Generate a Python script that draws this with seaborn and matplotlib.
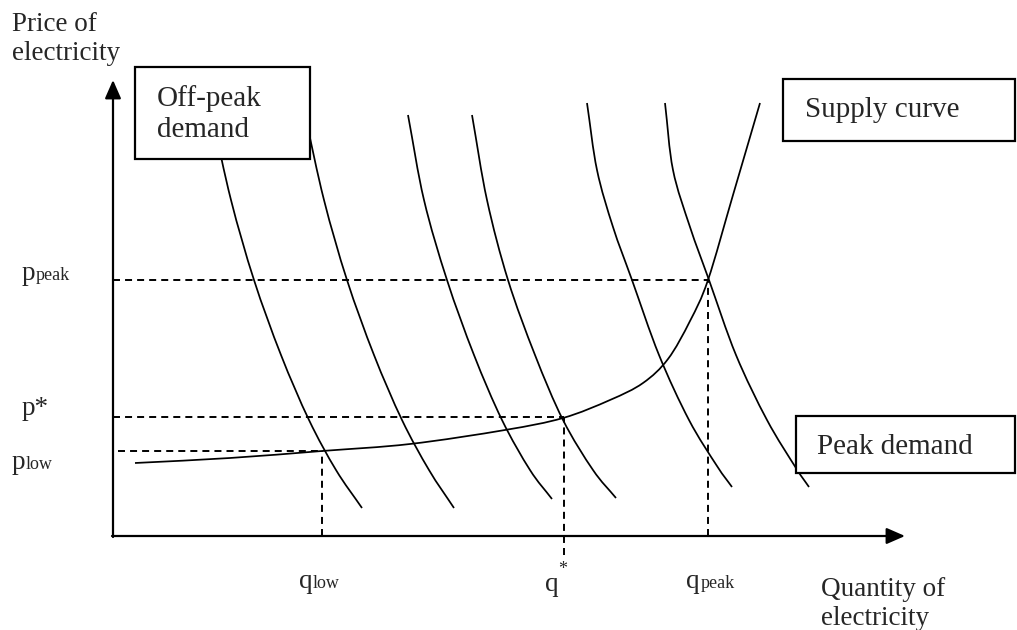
import matplotlib
matplotlib.use("Agg")
import matplotlib.pyplot as plt
from matplotlib.patches import Rectangle, PathPatch
from matplotlib.path import Path
import seaborn as sns
import numpy as np

# ---------------- data (quantity, price) ----------------
supply_q = [22, 117, 209, 297, 392, 450, 497, 530, 555, 577, 595, 620, 647]
supply_p = [73, 78, 85, 92, 106, 118, 136, 153, 177, 215, 256, 341, 433]

d1_q = [99, 118, 141, 168, 196, 223, 249]
d1_p = [421, 336, 256, 181, 116, 66, 28]
d2_q = [192, 211, 234, 261, 289, 316, 341]
d2_p = [421, 336, 256, 181, 116, 66, 28]
d3_q = [295, 311, 334, 361, 389, 417, 439]
d3_p = [421, 336, 256, 181, 116, 66, 37]
d4_q = [359, 374, 395, 422, 450, 480, 503]
d4_p = [421, 336, 256, 181, 116, 66, 38]
d5_q = [474, 484, 500, 519, 546, 576, 604, 619]
d5_p = [433, 366, 309, 256, 181, 116, 70, 49]
d6_q = [552, 560, 577, 596, 623, 654, 683, 696]
d6_p = [433, 366, 309, 256, 181, 116, 68, 49]

p_peak, p_star, p_low = 256, 119, 85
q_low, q_star, q_peak = 209, 451, 595

price_axis_label = ["Price of", "electricity"]
quantity_axis_label = ["Quantity of", "electricity"]
box_labels = ["Off-peak", "demand", "Supply curve", "Peak demand"]

# ---------------- figure ----------------
sns.set_theme(style="white")
plt.rcParams["font.family"] = ["Liberation Serif", "DejaVu Serif"]

fig = plt.figure(figsize=(10.17, 6.30), dpi=100)
ax = fig.add_axes([0, 0, 1, 1])
sns.despine(ax=ax, left=True, bottom=True)


def smooth_curve(qs, ps, lw=1.25):
    """Draw a smooth (Catmull-Rom as cubic Bezier) curve through the read points."""
    pts = np.column_stack([qs, ps]).astype(float)
    n = len(pts)
    verts = [pts[0]]
    codes = [Path.MOVETO]
    for i in range(n - 1):
        p0 = pts[i - 1] if i > 0 else 2 * pts[i] - pts[i + 1]
        p1 = pts[i]
        p2 = pts[i + 1]
        p3 = pts[i + 2] if i + 2 < n else 2 * pts[i + 1] - pts[i]
        c1 = p1 + (p2 - p0) / 6.0
        c2 = p2 - (p3 - p1) / 6.0
        verts += [c1, c2, p2]
        codes += [Path.CURVE4] * 3
    ax.add_patch(PathPatch(Path(verts, codes), fc="none", ec="black", lw=lw,
                           zorder=2, capstyle="butt"))


for qs, ps in [(supply_q, supply_p), (d1_q, d1_p), (d2_q, d2_p), (d3_q, d3_p),
               (d4_q, d4_p), (d5_q, d5_p), (d6_q, d6_p)]:
    smooth_curve(qs, ps)

# dashed guide lines
dash_kw = dict(color="black", lw=1.4, dashes=(3.6, 2.6), zorder=1)
ax.plot([0, q_peak], [p_peak, p_peak], **dash_kw)
ax.plot([0, q_star], [p_star, p_star], **dash_kw)
ax.plot([5, q_low], [p_low, p_low], **dash_kw)
ax.plot([q_low, q_low], [0, p_low], **dash_kw)
ax.plot([q_star, q_star], [-19, p_star], **dash_kw)
ax.plot([q_peak, q_peak], [0, p_peak], **dash_kw)

# axes with arrows
arrow = dict(arrowstyle="-|>,head_length=0.8,head_width=0.35", color="black",
             lw=1.6, shrinkA=0, shrinkB=0, mutation_scale=14)
ax.annotate("", xy=(0, 456), xytext=(0, -1), arrowprops=arrow, zorder=5)
ax.annotate("", xy=(792, 0), xytext=(-1, 0), arrowprops=arrow, zorder=5)


# boxes
def box(x0, y0, x1, y1):
    ax.add_patch(Rectangle((x0, y0), x1 - x0, y1 - y0, fc="white", ec="black",
                           lw=1.6, zorder=3))


box(22, 377, 197, 469)
box(670, 395, 902, 457)
box(683, 63, 902, 120)

big = 21
ax.text(44, 430, box_labels[0], fontsize=big, va="baseline", zorder=4)
ax.text(44, 399, box_labels[1], fontsize=big, va="baseline", zorder=4)
ax.text(692, 419, box_labels[2], fontsize=big, va="baseline", zorder=4)
ax.text(704, 82, box_labels[3], fontsize=big, va="baseline", zorder=4)

# axis titles
ax.text(-101, 505, price_axis_label[0], fontsize=19.5, va="baseline")
ax.text(-101, 476, price_axis_label[1], fontsize=19.5, va="baseline")
ax.text(708, -60, quantity_axis_label[0], fontsize=19.5, va="baseline")
ax.text(708, -89, quantity_axis_label[1], fontsize=19.5, va="baseline")

# price / quantity symbols
main, sub = 19.5, 13
ax.text(-91, 256, "p", fontsize=main, va="baseline")
ax.text(-77, 256, "peak", fontsize=sub, va="baseline")
ax.text(-91, 121, "p*", fontsize=main, va="baseline")
ax.text(-101, 67, "p", fontsize=main, va="baseline")
ax.text(-87, 67, "low", fontsize=sub, va="baseline")

ax.text(186, -52, "q", fontsize=main, va="baseline")
ax.text(200, -52, "low", fontsize=sub, va="baseline")
ax.text(432, -55, "q", fontsize=main, va="baseline")
ax.text(445, -38, "*", fontsize=sub, va="baseline")
ax.text(573, -52, "q", fontsize=main, va="baseline")
ax.text(588, -52, "peak", fontsize=sub, va="baseline")

ax.set_xlim(-113, 904)
ax.set_ylim(-94, 536)
ax.axis("off")

fig.savefig("out.png", dpi=100, facecolor="white")
